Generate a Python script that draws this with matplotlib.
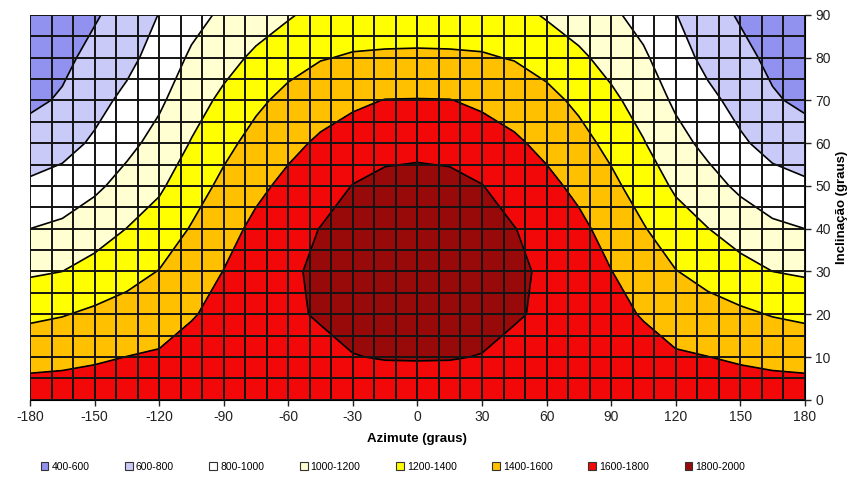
import numpy as np
import matplotlib
matplotlib.use("Agg")
import matplotlib.pyplot as plt
from matplotlib.patches import Patch

plt.rcParams['font.family'] = ['Liberation Sans', 'DejaVu Sans']
plt.rcParams['axes.unicode_minus'] = False

# Eixos: azimute (graus) e inclinação (graus)
azimute = [-180, -165, -150, -135, -120, -105, -90, -75, -60, -45, -30, -15, 0,
           15, 30, 45, 60, 75, 90, 105, 120, 135, 150, 165, 180]
inclinacao = [0, 10, 20, 30, 40, 50, 60, 70, 80, 90]

# Irradiação (kWh/m2), uma linha por inclinação
irr_00 = [1700] * 25
irr_10 = [1539, 1554, 1578, 1602, 1620, 1647, 1668, 1720, 1740, 1756, 1795, 1808, 1810,
          1808, 1795, 1756, 1740, 1720, 1668, 1647, 1620, 1602, 1578, 1554, 1539]
irr_20 = [1362, 1390, 1433, 1471, 1517, 1591, 1636, 1725, 1775, 1815, 1850, 1870, 1875,
          1870, 1850, 1815, 1775, 1725, 1636, 1591, 1517, 1471, 1433, 1390, 1362]
irr_30 = [1174, 1200, 1268, 1338, 1406, 1502, 1604, 1700, 1775, 1830, 1865, 1885, 1890,
          1885, 1865, 1830, 1775, 1700, 1604, 1502, 1406, 1338, 1268, 1200, 1174]
irr_40 = [1000, 1040, 1110, 1203, 1286, 1413, 1528, 1645, 1730, 1805, 1850, 1870, 1878,
          1870, 1850, 1805, 1730, 1645, 1528, 1413, 1286, 1203, 1110, 1040, 1000]
irr_50 = [831, 873, 964, 1068, 1171, 1313, 1444, 1555, 1649, 1719, 1805, 1835, 1845,
          1835, 1805, 1719, 1649, 1555, 1444, 1313, 1171, 1068, 964, 873, 831]
irr_60 = [689, 735, 828, 949, 1065, 1211, 1349, 1464, 1551, 1630, 1688, 1757, 1763,
          1757, 1688, 1630, 1551, 1464, 1349, 1211, 1065, 949, 828, 735, 689]
irr_70 = [560, 622, 737, 847, 968, 1119, 1241, 1362, 1454, 1516, 1567, 1605, 1608,
          1605, 1567, 1516, 1454, 1362, 1241, 1119, 968, 847, 737, 622, 560]
irr_80 = [520, 555, 656, 745, 884, 1027, 1133, 1235, 1328, 1390, 1415, 1420, 1420,
          1420, 1415, 1390, 1328, 1235, 1133, 1027, 884, 745, 656, 555, 520]
irr_90 = [490, 520, 580, 680, 805, 936, 1033, 1107, 1180, 1264, 1305, 1320, 1330,
          1320, 1305, 1264, 1180, 1107, 1033, 936, 805, 680, 580, 520, 490]

niveis = [400, 600, 800, 1000, 1200, 1400, 1600, 1800, 2000]
rotulos = ['400-600', '600-800', '800-1000', '1000-1200', '1200-1400',
           '1400-1600', '1600-1800', '1800-2000']
cores = ['#9191F0', '#CACAF8', '#FFFFFF', '#FFFFD2', '#FFFF00',
         '#FFC000', '#F20808', '#980A0A']

Z = np.array([irr_00, irr_10, irr_20, irr_30, irr_40, irr_50,
              irr_60, irr_70, irr_80, irr_90])
X, Y = np.meshgrid(azimute, inclinacao)

fig = plt.figure(figsize=(8.58, 4.93), dpi=100)
ax = fig.add_axes([0.035, 0.189, 0.903, 0.781])

ax.contourf(X, Y, Z, levels=niveis, colors=cores, zorder=0.5)
ax.contour(X, Y, Z, levels=niveis[1:-1], colors='black', linewidths=1.2, zorder=2)

ax.set_xlim(-180, 180)
ax.set_ylim(0, 90)
ax.set_xticks(np.arange(-180, 181, 30))
ax.set_yticks(np.arange(0, 91, 10))
ax.set_xticks(np.arange(-180, 181, 10), minor=True)
ax.set_yticks(np.arange(0, 91, 5), minor=True)
ax.grid(which='both', color='#141414', linewidth=1.4)
ax.set_axisbelow(False)
ax.tick_params(which='minor', length=0)
ax.tick_params(which='major', length=4, width=1, direction='out', labelsize=10, colors='#222222')

ax.yaxis.tick_right()
ax.yaxis.set_label_position('right')
for s in ['top', 'left']:
    ax.spines[s].set_visible(False)

ax.set_xlabel('Azimute (graus)', fontsize=9.5, fontweight='bold', labelpad=6)
ax.set_ylabel('Inclinação (graus)', fontsize=9.5, fontweight='bold', labelpad=4)

handles = [Patch(facecolor=c, edgecolor='#333333', linewidth=0.8) for c in cores]
fig.legend(handles, rotulos, loc='center', bbox_to_anchor=(0.458, 0.053), ncol=8,
           frameon=False, fontsize=7.5, handlelength=0.75, handleheight=0.75,
           handletextpad=0.3, columnspacing=3.4)

fig.savefig('out.png', dpi=100)
